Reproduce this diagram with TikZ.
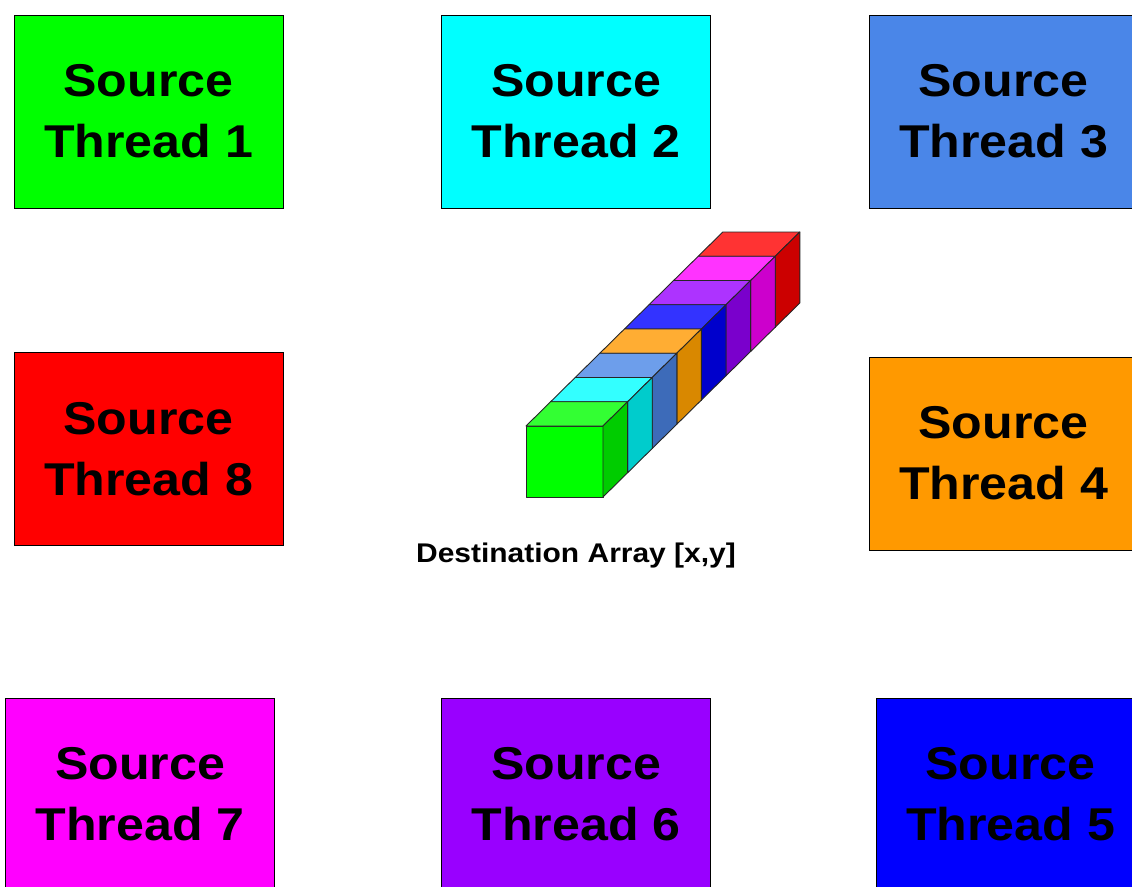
\documentclass[tikz,border=0pt]{standalone}
\usepackage{fontspec}
\setmainfont{Liberation Sans}

% thread colours
\definecolor{cGreen}{HTML}{00FF00}
\definecolor{cCyan}{HTML}{00FFFF}
\definecolor{cSteel}{HTML}{4A86E8}
\definecolor{cOrange}{HTML}{FF9900}
\definecolor{cBlue}{HTML}{0000FF}
\definecolor{cPurple}{HTML}{9900FF}
\definecolor{cMagenta}{HTML}{FF00FF}
\definecolor{cRed}{HTML}{FF0000}
% lighter tops and darker sides of the cubes
\definecolor{tGreen}{HTML}{33FF33}   \definecolor{sGreen}{HTML}{00CC00}
\definecolor{tCyan}{HTML}{33FFFF}    \definecolor{sCyan}{HTML}{00CCCC}
\definecolor{tSteel}{HTML}{6D9EEB}   \definecolor{sSteel}{HTML}{3D6BB9}
\definecolor{tOrange}{HTML}{FFAD33}  \definecolor{sOrange}{HTML}{D98800}
\definecolor{tBlue}{HTML}{3333FF}    \definecolor{sBlue}{HTML}{0000CC}
\definecolor{tPurple}{HTML}{AD33FF}  \definecolor{sPurple}{HTML}{7A00CC}
\definecolor{tMagenta}{HTML}{FF33FF} \definecolor{sMagenta}{HTML}{CC00CC}
\definecolor{tRed}{HTML}{FF3333}     \definecolor{sRed}{HTML}{CC0000}

% slightly widened bold lettering
\newcommand{\wideline}[1]{\scalebox{1.09}[1]{#1}}
\newcommand{\threadtext}[1]{\wideline{Source}\\\wideline{Thread #1}}

\begin{document}
\begin{tikzpicture}[x=1pt,y=-1pt,
  thread/.style={draw=black, line width=0.8pt, minimum width=269pt,
    minimum height=193pt, inner sep=0pt, align=center,
    font=\fontsize{46}{61}\selectfont\bfseries},
  face/.style={draw=black!85, line width=0.9pt, line join=round}]
\useasboundingbox (0,0) rectangle (1132,886);
\clip (0,0) rectangle (1132,886);
\fill[white] (0,0) rectangle (1132,886);

% source thread boxes
\node[thread, fill=cGreen]   (t1) at (148.5,111.5) {\threadtext{1}};
\node[thread, fill=cCyan]    (t2) at (576,111.5)   {\threadtext{2}};
\node[thread, fill=cSteel]   (t3) at (1003.5,111.5){\threadtext{3}};
\node[thread, fill=cOrange]  (t4) at (1003.5,453.5){\threadtext{4}};
\node[thread, fill=cBlue]    (t5) at (1010.5,794.5){\threadtext{5}};
\node[thread, fill=cPurple]  (t6) at (576,794.5)   {\threadtext{6}};
\node[thread, fill=cMagenta] (t7) at (140,794.5)   {\threadtext{7}};
\node[thread, fill=cRed]     (t8) at (148.5,449)   {\threadtext{8}};

% destination array: a row of cubes, drawn back to front
\foreach \k/\cf/\ct/\cs in {7/cRed/tRed/sRed, 6/cMagenta/tMagenta/sMagenta,
    5/cPurple/tPurple/sPurple, 4/cBlue/tBlue/sBlue, 3/cOrange/tOrange/sOrange,
    2/cSteel/tSteel/sSteel, 1/cCyan/tCyan/sCyan, 0/cGreen/tGreen/sGreen} {
  \pgfmathsetmacro\xa{526+24.6*\k}
  \pgfmathsetmacro\ya{426-24.25*\k}
  \filldraw[face, fill=\cf] (\xa,\ya) rectangle ++(77,71);
  \filldraw[face, fill=\ct] (\xa,\ya) -- ++(24.6,-24.25) -- ++(77,0)
    -- ++(-24.6,24.25) -- cycle;
  \filldraw[face, fill=\cs] (\xa+77,\ya) -- ++(24.6,-24.25) -- ++(0,71)
    -- ++(-24.6,24.25) -- cycle;
}

\node[font=\fontsize{27}{32}\selectfont\bfseries] (dest) at (576,556)
  {\scalebox{1.11}[1]{Destination Array [x,y]}};
\end{tikzpicture}
\end{document}
